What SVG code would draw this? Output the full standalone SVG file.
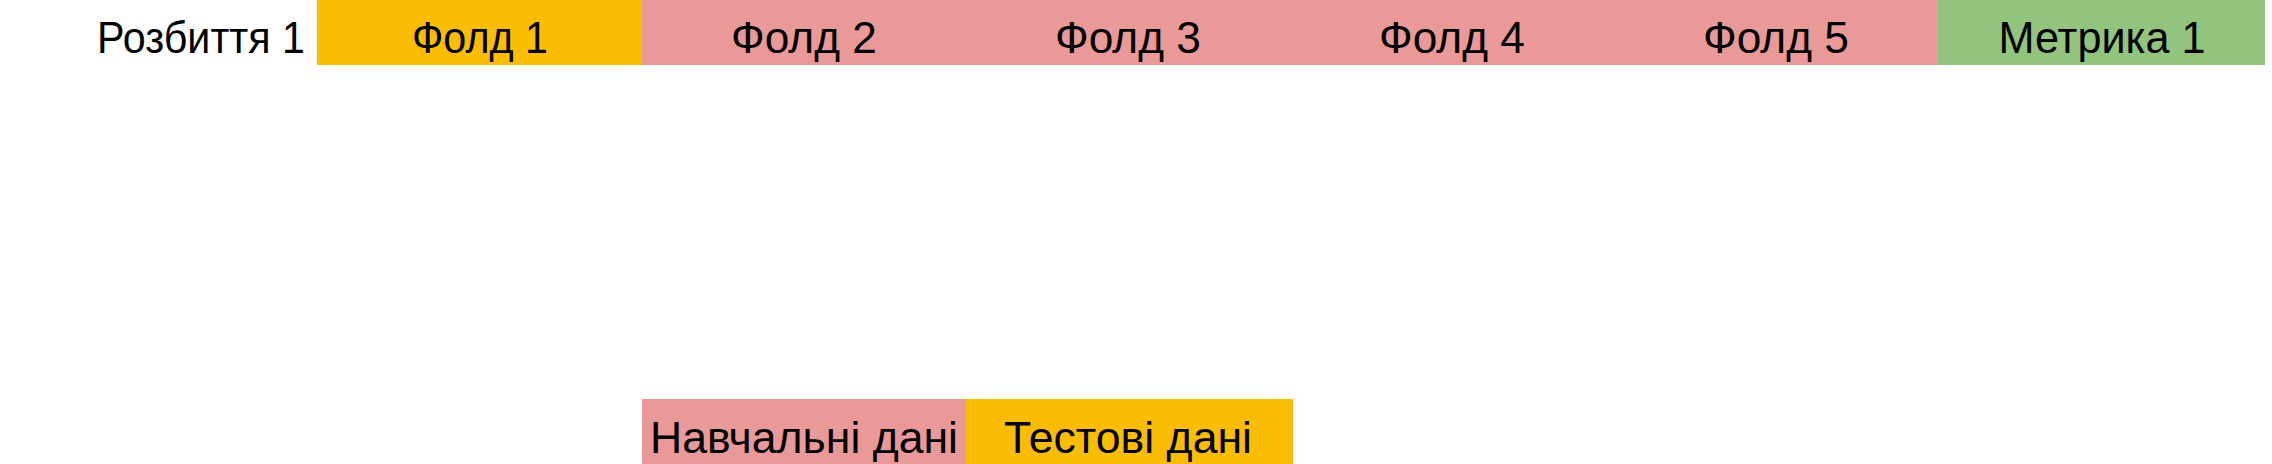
<svg xmlns="http://www.w3.org/2000/svg" width="2272" height="464" viewBox="0 0 2272 464">
<style>
text{font-family:"Liberation Sans","Noto Sans",Arial,sans-serif;font-size:45px;fill:#000;text-anchor:middle}
.y{fill:#FBBC04}
.p{fill:#EA9999}
.g{fill:#93C47D}
</style>
<rect width="2272" height="464" fill="#fff"/>
<g id="label-split1"><text x="305" y="53" style="text-anchor:end" textLength="208" lengthAdjust="spacingAndGlyphs">Розбиття 1</text></g>
<g id="fold1"><rect class="y" x="317" y="0" width="325" height="65"/><text x="480" y="53" textLength="136" lengthAdjust="spacingAndGlyphs">Фолд 1</text></g>
<g id="fold2"><rect class="p" x="642" y="0" width="324" height="65"/><text x="804" y="53" textLength="146" lengthAdjust="spacingAndGlyphs">Фолд 2</text></g>
<g id="fold3"><rect class="p" x="966" y="0" width="324" height="65"/><text x="1128" y="53" textLength="146" lengthAdjust="spacingAndGlyphs">Фолд 3</text></g>
<g id="fold4"><rect class="p" x="1290" y="0" width="324" height="65"/><text x="1452" y="53" textLength="146" lengthAdjust="spacingAndGlyphs">Фолд 4</text></g>
<g id="fold5"><rect class="p" x="1614" y="0" width="324" height="65"/><text x="1776" y="53" textLength="146" lengthAdjust="spacingAndGlyphs">Фолд 5</text></g>
<g id="metric1"><rect class="g" x="1938" y="0" width="327" height="65"/><text x="2102" y="53" textLength="207" lengthAdjust="spacingAndGlyphs">Метрика 1</text></g>
<g id="legend-train"><rect class="p" x="642" y="399" width="324" height="65"/><text x="804" y="453" textLength="308" lengthAdjust="spacingAndGlyphs">Навчальні дані</text></g>
<g id="legend-test"><rect class="y" x="966" y="399" width="327" height="65"/><text x="1128" y="453" textLength="248" lengthAdjust="spacingAndGlyphs">Тестові дані</text></g>
<g id="connectors"></g>
</svg>
